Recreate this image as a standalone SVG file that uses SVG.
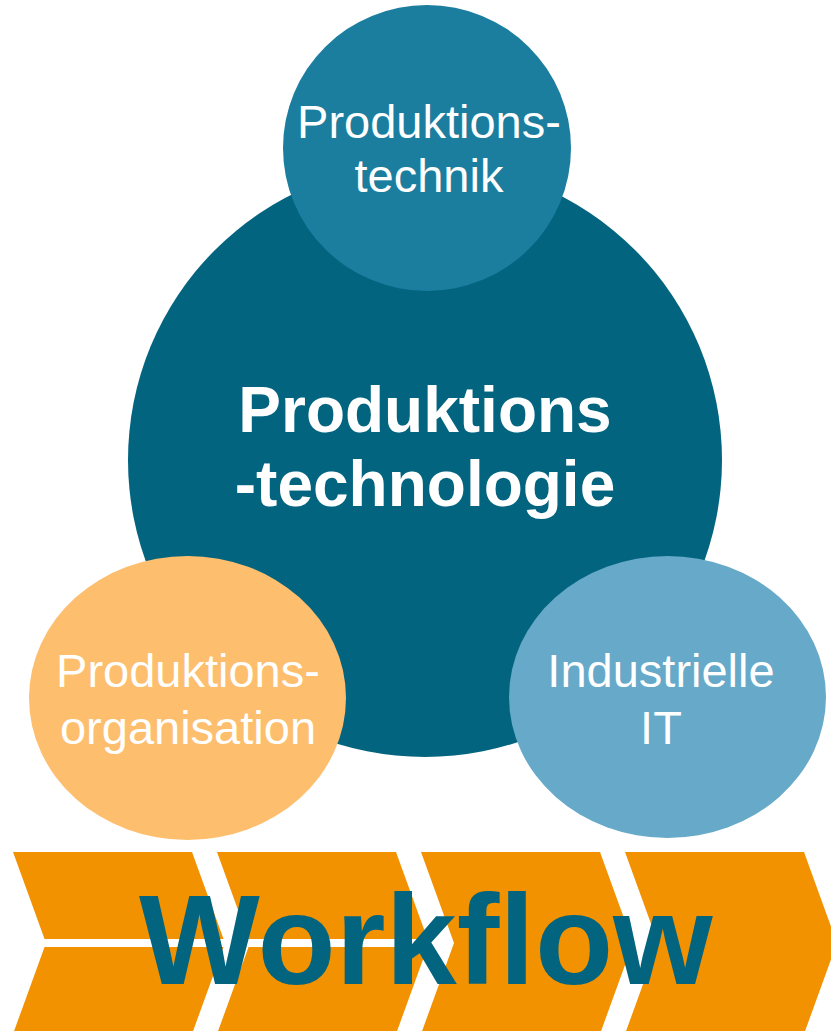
<svg xmlns="http://www.w3.org/2000/svg" width="831" height="1031" viewBox="0 0 831 1031">
<style>
.lbl{font-family:"Liberation Sans",Arial,sans-serif;fill:#ffffff;text-anchor:middle;font-size:47px}
.big{font-family:"Liberation Sans",Arial,sans-serif;fill:#ffffff;text-anchor:middle;font-size:64px;font-weight:bold}
.chev{fill:#F39200}
.gap{fill:#ffffff}
.wf{font-family:"Liberation Sans",Arial,sans-serif;fill:#02647F;font-size:128px;font-weight:bold}
</style>
<defs>
<polygon id="chevron" points="0,852 179,852 212,943 179,1034 0,1034 33,943"/>
</defs>
<rect width="831" height="1031" fill="#ffffff"/>
<g id="workflow">
<use href="#chevron" class="chev" x="13"/>
<use href="#chevron" class="chev" x="217"/>
<use href="#chevron" class="chev" x="421"/>
<use href="#chevron" class="chev" x="625"/>
<rect class="gap" x="44" y="939" width="185" height="8"/>
<rect class="gap" x="248" y="939" width="185" height="8"/>
<text class="wf" x="139" y="984">Workflow</text>
</g>
<g id="produktionstechnologie">
<circle cx="425" cy="460" r="297" fill="#02647F"/>
<text class="big" x="425" y="432">Produktions</text>
<text class="big" x="425" y="506">-technologie</text>
</g>
<g id="produktionstechnik">
<ellipse cx="427" cy="148" rx="144" ry="143" fill="#1B7E9F"/>
<text class="lbl" x="429" y="138">Produktions-</text>
<text class="lbl" x="429" y="192">technik</text>
</g>
<g id="produktionsorganisation">
<ellipse cx="187.5" cy="698" rx="158.5" ry="142" fill="#FDBE6E"/>
<text class="lbl" x="188" y="687">Produktions-</text>
<text class="lbl" x="188" y="744">organisation</text>
</g>
<g id="industrielle-it">
<ellipse cx="667.5" cy="697" rx="158.5" ry="141" fill="#66A9C9"/>
<text class="lbl" x="661" y="687">Industrielle</text>
<text class="lbl" x="661" y="744">IT</text>
</g>
</svg>
